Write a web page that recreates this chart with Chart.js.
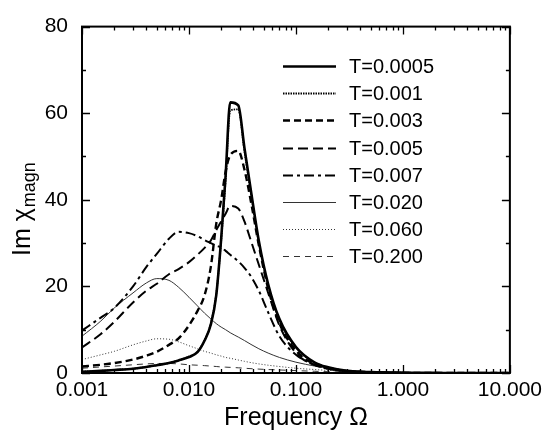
<!DOCTYPE html>
<html>
<head>
<meta charset="utf-8">
<script src="https://cdn.jsdelivr.net/npm/chart.js@4.4.1/dist/chart.umd.min.js"></script>
<style>
  body { margin: 0; background: #fff; }
  canvas { display: block; }
</style>
</head>
<body>
<canvas id="chiChart" width="547" height="437"></canvas>
<script>
// frequencies (shared by all curves)
const freq = [0.001, 0.0015, 0.002, 0.003, 0.004, 0.005, 0.0065, 0.008, 0.01, 0.012, 0.014, 0.016, 0.018, 0.02, 0.022,
  0.0243, 0.0289, 0.033, 0.038, 0.045, 0.055, 0.07, 0.1, 0.15, 0.2, 0.3, 0.5, 1, 2, 5, 10];

const labels = ['T=0.0005', 'T=0.001', 'T=0.003', 'T=0.005', 'T=0.007', 'T=0.020', 'T=0.060', 'T=0.200'];

const t0005 = [0.3, 0.5, 0.7, 1.0, 1.4, 1.8, 2.3, 2.9, 3.7, 4.8, 7.5, 11.2, 18, 31, 45.5,
  62.5, 61.8, 52, 42, 30.5, 20.5, 12.5, 6.0, 2.4, 1.3, 0.5, 0.2, 0.05, 0.02, 0, 0];
const t001 = [0.3, 0.5, 0.7, 1.0, 1.4, 1.8, 2.3, 2.9, 3.8, 4.9, 7.6, 11.4, 18.3, 30.5, 44.5,
  60.6, 60.9, 51.2, 41.5, 30, 20.2, 12.3, 5.9, 2.4, 1.3, 0.5, 0.2, 0.05, 0.02, 0, 0];
const t003 = [1.5, 1.9, 2.3, 3.1, 4.0, 4.9, 6.5, 8.0, 11.0, 14.3, 18, 24.5, 34.5, 40, 46.5,
  50.3, 51.3, 47, 39.5, 29.5, 19.5, 11.5, 5.2, 2.0, 1.1, 0.45, 0.18, 0.05, 0.02, 0, 0];
const t005 = [5.9, 9.0, 11.8, 16.3, 19.0, 20.6, 22.8, 24.0, 25.6, 27.3, 28.9, 30.6, 33, 35, 36.8,
  38.6, 38, 35, 30.5, 25, 18.5, 11, 4.6, 1.8, 1.0, 0.4, 0.15, 0.04, 0.02, 0, 0];
const t007 = [9.8, 12.8, 15, 20, 24.5, 27.5, 31, 32.6, 32.3, 31.6, 30.7, 30, 29.4, 29, 28.2,
  27.3, 25.8, 24.3, 22.3, 19, 14, 8.5, 4.2, 1.9, 1.0, 0.45, 0.15, 0.04, 0.02, 0, 0];
const t020 = [8.5, 12, 15, 18.5, 20.8, 21.8, 21.4, 19.8, 17.5, 15.5, 13.8, 12.5, 11.4, 10.6, 10,
  9.3, 8.3, 7.5, 6.6, 5.6, 4.6, 3.6, 2.5, 1.6, 1.1, 0.6, 0.3, 0.1, 0.04, 0.01, 0];
const t060 = [3.1, 4.2, 5.0, 6.5, 7.4, 7.9, 7.8, 7.2, 6.3, 5.6, 5.0, 4.6, 4.2, 3.9, 3.6,
  3.4, 3.0, 2.7, 2.4, 2.1, 1.8, 1.5, 1.1, 0.8, 0.6, 0.4, 0.2, 0.1, 0.04, 0.01, 0];
const t200 = [1.1, 1.4, 1.6, 1.9, 2.1, 2.2, 2.2, 2.1, 1.9, 1.8, 1.7, 1.6, 1.5, 1.4, 1.35,
  1.3, 1.2, 1.1, 1.0, 0.9, 0.8, 0.7, 0.55, 0.4, 0.3, 0.2, 0.12, 0.06, 0.03, 0.01, 0];

const xTicks = [0.001, 0.01, 0.1, 1, 10];
const yTicks = [0, 20, 40, 60, 80];

const FONT = '"Liberation Sans", Arial, Helvetica, sans-serif';

const seriesValues = [t0005, t001, t003, t005, t007, t020, t060, t200];
const styles = [
  { w: 2.6, dash: [] },
  { w: 1.8, dash: [1.5, 1] },
  { w: 2.4, dash: [7, 4] },
  { w: 2.0, dash: [10, 5] },
  { w: 2.0, dash: [10, 4, 3, 4] },
  { w: 1.0, dash: [] },
  { w: 1.0, dash: [1, 2] },
  { w: 1.0, dash: [6, 5] }
];

const datasets = labels.map((lab, i) => ({
  label: lab,
  data: freq.map((f, j) => ({ x: f, y: seriesValues[i][j] })),
  borderColor: i >= 5 ? '#333' : '#000',
  borderWidth: styles[i].w,
  borderDash: styles[i].dash,
  pointRadius: 0,
  cubicInterpolationMode: 'monotone',
  fill: false
}));

// frame, inward ticks, inset legend and axis titles
const decorPlugin = {
  id: 'decor',
  afterDraw(chart) {
    const ctx = chart.ctx;
    const a = chart.chartArea;
    const xs = chart.scales.x, ys = chart.scales.y;
    ctx.save();
    ctx.strokeStyle = '#000';
    ctx.setLineDash([]);

    // ticks
    ctx.lineWidth = 1.3;
    ctx.beginPath();
    for (let d = 0.001; d < 10.5; d *= 10) {
      for (let m = 1; m <= 9; m++) {
        const v = d * m;
        if (v > 10.0001) break;
        const px = Math.round(xs.getPixelForValue(v)) + 0.5;
        const len = m === 1 ? 8 : 4;
        ctx.moveTo(px, a.bottom); ctx.lineTo(px, a.bottom - len);
        ctx.moveTo(px, a.top); ctx.lineTo(px, a.top + len);
      }
    }
    for (let v = 0; v <= 80; v += 10) {
      const py = Math.round(ys.getPixelForValue(v)) + 0.5;
      const len = v % 20 === 0 ? 8 : 4;
      ctx.moveTo(a.left, py); ctx.lineTo(a.left + len, py);
      ctx.moveTo(a.right, py); ctx.lineTo(a.right - len, py);
    }
    ctx.stroke();

    // frame
    ctx.lineWidth = 2;
    ctx.strokeRect(a.left, a.top, a.right - a.left, a.bottom - a.top);

    // legend
    const lx0 = 283, lx1 = 336, tx = 349, ly0 = 66, dy = 27.2;
    chart.data.datasets.forEach((ds, i) => {
      const y = Math.round(ly0 + i * dy) + 0.5;
      ctx.strokeStyle = ds.borderColor;
      ctx.lineWidth = ds.borderWidth;
      ctx.setLineDash(ds.borderDash);
      ctx.beginPath();
      ctx.moveTo(lx0, y); ctx.lineTo(lx1, y);
      ctx.stroke();
      ctx.setLineDash([]);
      ctx.fillStyle = '#000';
      ctx.font = '20px ' + FONT;
      ctx.textAlign = 'left';
      ctx.textBaseline = 'middle';
      ctx.fillText(ds.label, tx, y + 1);
    });

    // x title
    ctx.fillStyle = '#000';
    ctx.font = '25px ' + FONT;
    ctx.textAlign = 'center';
    ctx.textBaseline = 'alphabetic';
    ctx.fillText('Frequency \u03A9', (a.left + a.right) / 2, 425);

    // y title with subscript
    ctx.translate(29.5, 256);
    ctx.rotate(-Math.PI / 2);
    ctx.textAlign = 'left';
    ctx.font = '25px ' + FONT;
    const main = 'Im \u03C7';
    ctx.fillText(main, 0, 0);
    const w = ctx.measureText(main).width;
    ctx.font = '18px ' + FONT;
    ctx.fillText('magn', w + 1, 5);
    ctx.restore();
  }
};

new Chart(document.getElementById('chiChart'), {
  type: 'line',
  data: { datasets: datasets },
  options: {
    responsive: false,
    animation: false,
    layout: { padding: { top: 14, right: 35, left: 0, bottom: 0 } },
    plugins: { legend: { display: false }, tooltip: { enabled: false } },
    scales: {
      x: {
        type: 'logarithmic',
        min: 0.001,
        max: 10,
        afterBuildTicks: s => { s.ticks = xTicks.map(v => ({ value: v })); },
        afterFit: s => { s.height = 64; },
        grid: { display: false, drawTicks: false },
        border: { display: false },
        ticks: {
          autoSkip: false,
          maxRotation: 0,
          padding: 5,
          color: '#000',
          font: { family: FONT, size: 21 },
          callback: v => Number(v).toFixed(3)
        }
      },
      y: {
        min: 0,
        max: 80,
        afterBuildTicks: s => { s.ticks = yTicks.map(v => ({ value: v })); },
        afterFit: s => { s.width = 82; },
        grid: { display: false, drawTicks: false },
        border: { display: false },
        ticks: {
          padding: 14,
          color: '#000',
          font: { family: FONT, size: 21 }
        }
      }
    }
  },
  plugins: [decorPlugin]
});
</script>
</body>
</html>
